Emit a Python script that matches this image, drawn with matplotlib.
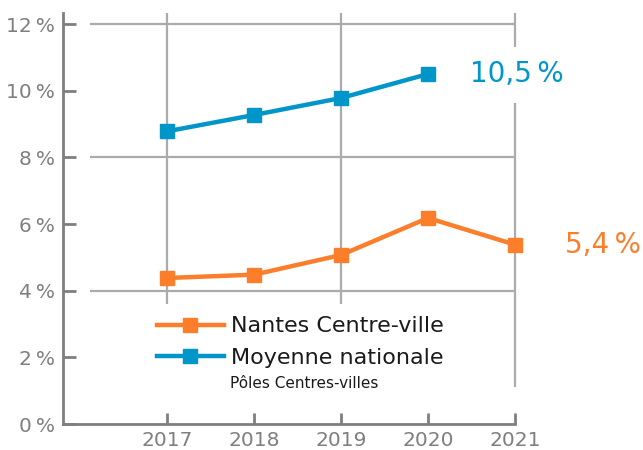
import matplotlib.pyplot as plt

# Taux de vacance commerciale
years = [2017, 2018, 2019, 2020, 2021]
nantes = [4.38, 4.48, 5.07, 6.18, 5.38]
national_years = [2017, 2018, 2019, 2020]
national = [8.78, 9.27, 9.78, 10.5]
y_ticks = [0, 2, 4, 6, 8, 10, 12]

orange = '#FC7E2B'
blue = '#0096C9'
grey = '#7F7F7F'
grid_col = '#ABABAB'

plt.rcParams['font.family'] = ['DejaVu Sans']

fig = plt.figure(figsize=(6.43, 4.5), dpi=100)
ax = fig.add_axes([63 / 643, 26 / 450, 580 / 643, 424 / 450])
ax.set_xlim(2015.805, 2022.47)
ax.set_ylim(0, 12.72)

# grille
for v in [4, 8, 12]:
    ax.hlines(v, 2016.12, 2021, color=grid_col, lw=1.6, zorder=1)
ax.vlines([2017, 2019], 3.6, 12.33, color=grid_col, lw=1.6, zorder=1)
ax.vlines(2021, 1.1, 9.63, color=grid_col, lw=1.6, zorder=1)
ax.vlines(2021, 11.31, 12.33, color=grid_col, lw=1.6, zorder=1)

ax.plot(years, nantes, color=orange, lw=3.2, marker='s', markersize=10,
        label='Nantes Centre-ville', zorder=3)
ax.plot(national_years, national, color=blue, lw=3.2, marker='s', markersize=10,
        label='Moyenne nationale', zorder=3)

ax.text(2020.48, national[-1], '10,5\u2009%', color=blue, fontsize=20, va='center')
ax.text(2021.57, nantes[-1], '5,4\u2009%', color=orange, fontsize=20, va='center')

# axes
for s in ['top', 'right']:
    ax.spines[s].set_visible(False)
for s in ['left', 'bottom']:
    ax.spines[s].set_color(grey)
    ax.spines[s].set_linewidth(2)
ax.spines['left'].set_bounds(0, 12.33)
ax.spines['bottom'].set_bounds(2015.805, 2021)

ax.set_yticks(y_ticks)
ax.set_yticklabels([f'{t}\u2009%' for t in y_ticks])
ax.set_xticks(years)
ax.set_xticklabels([str(y) for y in years])
ax.tick_params(axis='both', direction='in', color=grey, width=2, labelcolor=grey,
               labelsize=14.5)
ax.tick_params(axis='y', length=9, pad=6)
ax.tick_params(axis='x', length=8, pad=5)

leg = ax.legend(loc='upper left', bbox_to_anchor=(0.143, 0.28), frameon=False,
                fontsize=16, handlelength=3.0, handletextpad=0.35,
                labelspacing=0.5, borderpad=0)
for t in leg.get_texts():
    t.set_color('#1A1A1A')
ax.text(2017.72, 1.23, 'Pôles Centres-villes', fontsize=11, color='#1A1A1A',
        va='center')

fig.savefig('out.png', dpi=100)
